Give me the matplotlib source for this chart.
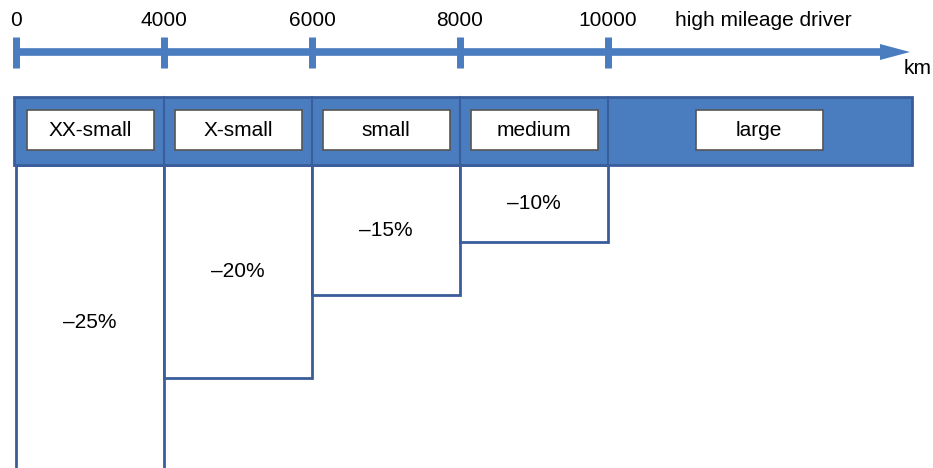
import matplotlib
matplotlib.use("Agg")
import matplotlib.pyplot as plt
from matplotlib.patches import Rectangle, FancyArrow

plt.rcParams['font.family'] = ['Liberation Sans', 'DejaVu Sans']

# ---- data ----
km_ticks = ["0", "4000", "6000", "8000", "10000"]
axis_title = "high mileage driver"
axis_unit = "km"
categories = ["XX-small", "X-small", "small", "medium", "large"]
discounts = ["\u201325%", "\u201320%", "\u201315%", "\u201310%"]
# depth of each discount box below the header (in diagram units)
box_depth = [320, 213, 130, 77]

# ---- styles ----
BLUE = "#4a7cc0"
DARK = "#3a5d9c"
FS = 15

fig = plt.figure(figsize=(9.33, 4.68), dpi=100)
ax = fig.add_axes([0, 0, 1, 1])
# x: one unit per km segment (tick index); y: diagram units (top = 0)
seg = 148.0
x0 = 16.0
ax.set_xlim(-x0 / seg, (933 - x0) / seg)
ax.set_ylim(468, 0)
ax.axis("off")

n = len(km_ticks)
# axis line with arrow
y_axis = 52
ax.plot([0, (891 - x0) / seg], [y_axis, y_axis], color=BLUE, lw=5.5, solid_capstyle="butt", zorder=2)
ax.add_patch(FancyArrow((880 - x0) / seg, y_axis, (910 - 880) / seg, 0,
                        width=0.0, head_width=16, head_length=(910 - 880) / seg,
                        length_includes_head=True, color=BLUE, lw=0, zorder=3))
for i, lab in enumerate(km_ticks):
    ax.plot([i, i], [37, 68], color=BLUE, lw=5, solid_capstyle="butt", zorder=3)
    ax.text(i, 21, lab, ha="center", va="center", fontsize=FS, color="black")
ax.text((763 - x0) / seg, 21, axis_title, ha="center", va="center", fontsize=FS)
ax.text((918 - x0) / seg, 68, axis_unit, ha="center", va="center", fontsize=FS)

# header bar
h_top, h_bot = 97, 165
right = (912 - x0) / seg
ax.add_patch(Rectangle((-2 / seg, h_top), right + 2 / seg, h_bot - h_top,
                       facecolor=BLUE, edgecolor=DARK, lw=2, zorder=2))
for i in range(1, n):
    ax.plot([i, i], [h_top, h_bot], color=DARK, lw=1.5, zorder=3)

# category labels
label_w = 127 / seg
for i, cat in enumerate(categories):
    if i < n - 1:
        cx = i + 0.5
    else:
        cx = (759 - x0) / seg
    ax.add_patch(Rectangle((cx - label_w / 2, 110), label_w, 40,
                           facecolor="white", edgecolor="#555555", lw=1.2, zorder=4))
    ax.text(cx, 130, cat, ha="center", va="center", fontsize=FS, zorder=5)

# discount boxes
for i, (d, dep) in enumerate(zip(discounts, box_depth)):
    ax.add_patch(Rectangle((i, h_bot), 1, dep, facecolor="white",
                           edgecolor=DARK, lw=2, zorder=1))
    ty = h_bot + dep * 0.5 if i > 0 else 322
    ax.text(i + 0.5, ty, d, ha="center", va="center", fontsize=FS, zorder=5)

fig.savefig("out.png", dpi=100)
